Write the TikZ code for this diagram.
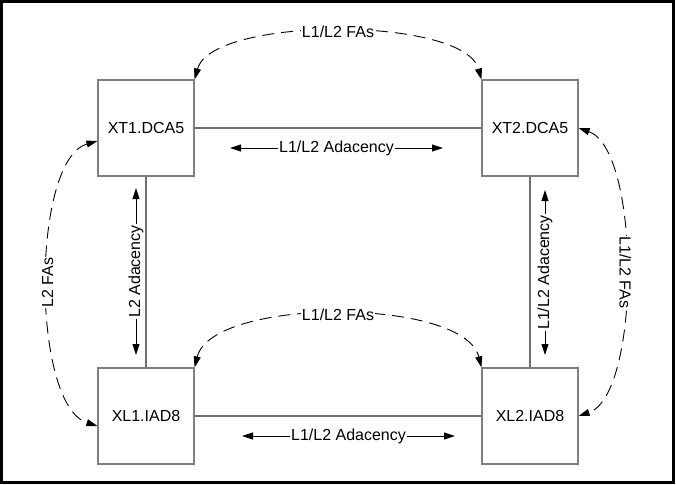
\documentclass[tikz,border=0pt]{standalone}
\usepackage{fontspec}
\setmainfont{Liberation Sans}
\usetikzlibrary{arrows.meta,positioning,calc}
\definecolor{boxline}{HTML}{7F7F7F}
\definecolor{linkline}{HTML}{6E6E6E}

\begin{document}
\begin{tikzpicture}[yscale=-1, x=1pt, y=1pt, >={Triangle[length=11pt,width=7pt]},
  router/.style={draw=boxline, line width=1.2pt, minimum width=96pt, minimum height=96pt, inner sep=0pt, font=\fontsize{16}{19}\selectfont},
  link/.style={draw=linkline, line width=1.1pt},
  lbl/.style={fill=white, inner sep=0.8pt, font=\fontsize{16}{19}\selectfont},
  adj/.style={<->, line width=0.9pt},
  fa/.style={<->, dash pattern=on 12pt off 7pt, line width=0.9pt}]
\useasboundingbox (0,0) rectangle (676,484);
% outer frame
\draw[line width=3pt] (1.5,1.5) rectangle (673.5,482.5);
% routers
\node[router] (XT1) at (146,128) {XT1.DCA5};
\node[router] (XT2) at (530,128) {XT2.DCA5};
\node[router] (XL1) at (146,416) {XL1.IAD8};
\node[router] (XL2) at (530,416) {XL2.IAD8};
% physical links
\draw[link] (XT1) -- (XT2);
\draw[link] (XL1) -- (XL2);
\draw[link] (XT1) -- (XL1);
\draw[link] (XT2) -- (XL2);
% adjacencies
\coordinate (ta1) at (230,148); \coordinate (ta2) at (443,148);
\coordinate (ba1) at (242,436); \coordinate (ba2) at (455,436);
\coordinate (la1) at (136,355); \coordinate (la2) at (136,188);
\coordinate (ra1) at (545,355); \coordinate (ra2) at (545,190);
\draw[adj] (ta1) -- (ta2) node[lbl, midway] {L1/L2 Adacency};
\draw[adj] (ba1) -- (ba2) node[lbl, midway] {L1/L2 Adacency};
\draw[adj] (la1) -- (la2) node[lbl, midway, rotate=90] {L2 Adacency};
\draw[adj] (ra1) -- (ra2) node[lbl, midway, rotate=90] {L1/L2 Adacency};
% forwarding adjacencies
\draw[fa] (XT1.north east) .. controls (212,16) and (464,16) .. (XT2.north west) node[lbl, pos=0.5] {L1/L2 FAs};
\draw[fa] (XL1.north east) .. controls (212,297) and (464,297) .. (XL2.north west) node[lbl, pos=0.5] {L1/L2 FAs};
\draw[fa] ($(XT1.west)+(0,13)$) .. controls (31,160) and (31,405) .. ($(XL1.west)+(0,10)$) node[lbl, pos=0.5, rotate=90] {L2 FAs};
\draw[fa] (XT2.east) .. controls (641,150) and (641,395) .. (XL2.east) node[lbl, pos=0.5, rotate=-90] {L1/L2 FAs};
\end{tikzpicture}
\end{document}
